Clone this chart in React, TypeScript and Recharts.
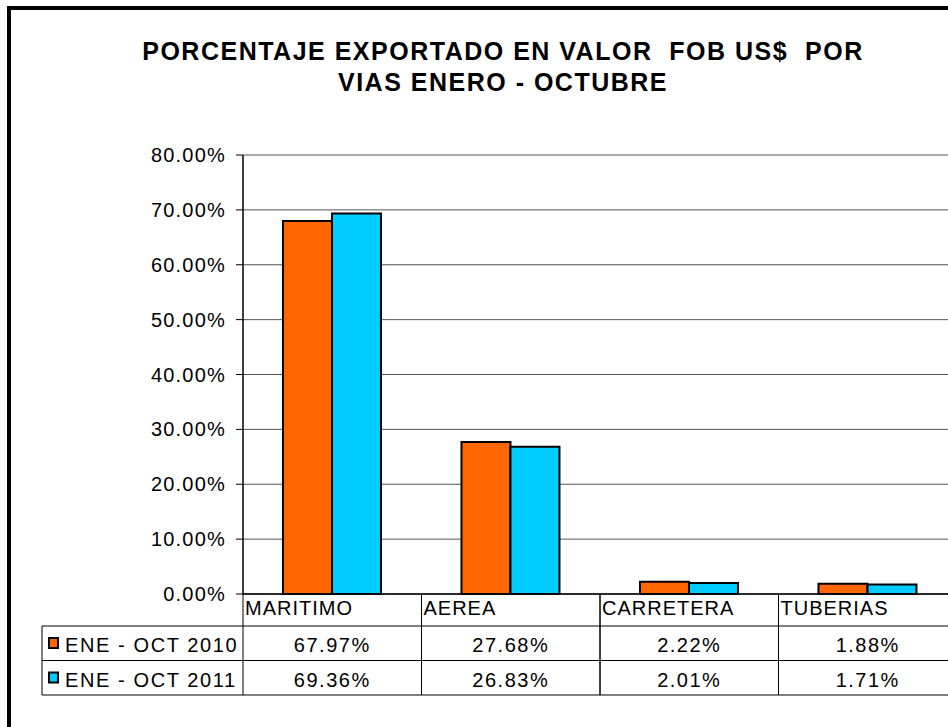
import React from 'react';
import { BarChart, Bar, XAxis, YAxis, CartesianGrid } from 'recharts';

const TITLE_LINES = ['PORCENTAJE EXPORTADO EN VALOR  FOB US$  POR', 'VIAS ENERO - OCTUBRE'];
const CATEGORIES = ['MARITIMO', 'AEREA', 'CARRETERA', 'TUBERIAS'];
const SERIES_NAMES = ['ENE - OCT 2010', 'ENE - OCT 2011'];
const VALUES_2010 = [67.97, 27.68, 2.22, 1.88];
const VALUES_2011 = [69.36, 26.83, 2.01, 1.71];
const SERIES_COLORS = ['#FF6600', '#00CCFF'];
const Y_TICKS = [0, 10, 20, 30, 40, 50, 60, 70, 80];

const data = CATEGORIES.map((c, i) => ({ cat: c, s2010: VALUES_2010[i], s2011: VALUES_2011[i] }));
const SERIES_VALUES = [VALUES_2010, VALUES_2011];

const FONT = '"Liberation Sans", Arial, sans-serif';
const CHART_W = 960;
const CHART_H = 727;
const MARGIN = { top: 155, right: 3, bottom: 23, left: 163 };
const YAXIS_W = 80;
const XAXIS_H = 110;
const PLOT_LEFT = MARGIN.left + YAXIS_W;
const PLOT_RIGHT = CHART_W - MARGIN.right;
const PLOT_BOTTOM = CHART_H - MARGIN.bottom - XAXIS_H;
const BAND = (PLOT_RIGHT - PLOT_LEFT) / CATEGORIES.length;
const HEADER_H = 32;
const ROW_H = 34.5;
const LEGEND_LEFT = 42;
const fmt = (v: number) => v.toFixed(2) + '%';

const TableTick = (props: any) => {
  const { x, payload, index } = props;
  const left = x - BAND / 2;
  const top = PLOT_BOTTOM;
  const r1 = top + HEADER_H;
  const r2 = r1 + ROW_H;
  const r3 = r2 + ROW_H;
  const idx = CATEGORIES.indexOf(payload.value);
  const lineStyle = { stroke: '#000', strokeWidth: 1 };
  return (
    <g>
      <text x={left + 2} y={top + 21} fontSize={20} fontFamily={FONT} fill="#000" letterSpacing={1} textAnchor="start">
        {payload.value}
      </text>
      <line x1={left} x2={left} y1={top} y2={r3} {...lineStyle} />
      <line x1={left + BAND} x2={left + BAND} y1={top} y2={r3} {...lineStyle} />
      <line x1={left} x2={left + BAND} y1={r1} y2={r1} {...lineStyle} />
      <line x1={left} x2={left + BAND} y1={r2} y2={r2} {...lineStyle} />
      <line x1={left} x2={left + BAND} y1={r3} y2={r3} {...lineStyle} />
      {SERIES_VALUES.map((vals, si) => (
        <text key={si} x={x} y={r1 + 26 + si * ROW_H} fontSize={20} fontFamily={FONT} fill="#000" letterSpacing={1.5} textAnchor="middle">
          {fmt(vals[idx])}
        </text>
      ))}
      {index === 0 && (
        <g>
          <line x1={LEGEND_LEFT} x2={left} y1={r1} y2={r1} {...lineStyle} />
          <line x1={LEGEND_LEFT} x2={left} y1={r2} y2={r2} {...lineStyle} />
          <line x1={LEGEND_LEFT} x2={left} y1={r3} y2={r3} {...lineStyle} />
          <line x1={LEGEND_LEFT} x2={LEGEND_LEFT} y1={r1} y2={r3} {...lineStyle} />
          {SERIES_NAMES.map((name, si) => (
            <g key={si}>
              <rect x={LEGEND_LEFT + 7} y={r1 + 12 + si * ROW_H} width={9} height={10} fill={SERIES_COLORS[si]} stroke="#000" strokeWidth={2} />
              <text x={LEGEND_LEFT + 23} y={r1 + 26 + si * ROW_H} fontSize={20} fontFamily={FONT} fill="#000" letterSpacing={1.6} textAnchor="start">
                {name}
              </text>
            </g>
          ))}
        </g>
      )}
    </g>
  );
};

export default function App() {
  return (
    <div style={{ position: 'absolute', left: 0, top: 0, width: 948, height: 727, overflow: 'hidden', background: '#fff' }}>
      <div style={{ position: 'absolute', left: 7, top: 6, width: 1100, height: 900, border: '4px solid #000', boxSizing: 'border-box' }} />
      <div style={{ position: 'absolute', left: 0, top: 36, width: 1006, textAlign: 'center', fontFamily: FONT, fontWeight: 'bold', fontSize: 25, lineHeight: '31px', letterSpacing: 1.5, whiteSpace: 'pre', color: '#000' }}>
        {TITLE_LINES.map((t, i) => (
          <div key={i}>{t}</div>
        ))}
      </div>
      <div style={{ position: 'absolute', left: 0, top: 0 }}>
        <BarChart width={CHART_W} height={CHART_H} data={data} margin={MARGIN} barCategoryGap="22.4%" barGap={0}>
          <CartesianGrid horizontal vertical={false} stroke="#555" strokeWidth={1} />
          <YAxis
            width={YAXIS_W}
            domain={[0, 80]}
            ticks={Y_TICKS}
            interval={0}
            tickFormatter={fmt}
            axisLine={{ stroke: '#000', strokeWidth: 1.5 }}
            tickLine={{ stroke: '#000' }}
            tickSize={7}
            tickMargin={10}
            tick={{ fill: '#000', fontSize: 20, fontFamily: FONT, letterSpacing: 1.2 }}
          />
          <XAxis
            dataKey="cat"
            height={XAXIS_H}
            interval={0}
            axisLine={{ stroke: '#000', strokeWidth: 1.5 }}
            tickLine={false}
            tickSize={0}
            tickMargin={0}
            tick={<TableTick />}
          />
          <Bar dataKey="s2010" name={SERIES_NAMES[0]} fill={SERIES_COLORS[0]} stroke="#000" strokeWidth={2} isAnimationActive={false} />
          <Bar dataKey="s2011" name={SERIES_NAMES[1]} fill={SERIES_COLORS[1]} stroke="#000" strokeWidth={2} isAnimationActive={false} />
        </BarChart>
      </div>
    </div>
  );
}
